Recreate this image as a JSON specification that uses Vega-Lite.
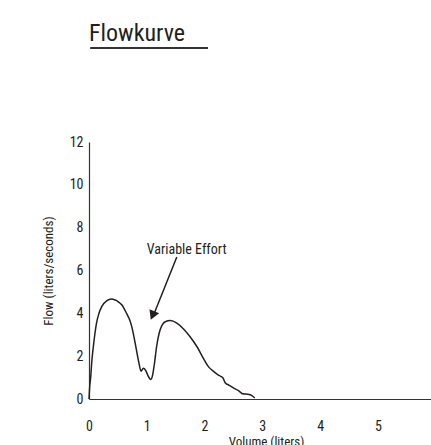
{
  "$schema": "https://vega.github.io/schema/vega-lite/v6.json",
  "width": 342,
  "height": 257,
  "autosize": "none",
  "padding": {"left": 89, "top": 142, "right": 0, "bottom": 46},
  "background": "white",
  "title": {
    "text": "Flowkurve",
    "anchor": "start",
    "frame": "group",
    "fontSize": 24,
    "fontWeight": "normal",
    "font": "'Roboto Condensed', 'DejaVu Sans Condensed', sans-serif",
    "color": "#231f20",
    "offset": 1
  },
  "config": {
    "font": "'Roboto Condensed', 'DejaVu Sans Condensed', sans-serif",
    "view": {"stroke": null},
    "axis": {
      "grid": false,
      "ticks": false,
      "tickSize": 0,
      "domainColor": "#333333",
      "domainWidth": 1.2,
      "labelFontSize": 14,
      "labelColor": "#231f20",
      "titleFontSize": 13,
      "titleFontWeight": "normal",
      "titleColor": "#231f20"
    }
  },
  "encoding": {
    "x": {
      "field": "x",
      "type": "quantitative",
      "scale": {"domain": [0, 5.92], "nice": false, "zero": false},
      "axis": {"values": [0, 1, 2, 3, 4, 5], "labelPadding": 20, "title": "Volume (liters)", "titlePadding": 2, "titleX": 177, "labelFlush": false}
    },
    "y": {
      "field": "y",
      "type": "quantitative",
      "scale": {"domain": [0, 12], "nice": false},
      "axis": {"values": [0, 2, 4, 6, 8, 10, 12], "labelPadding": 6, "title": "Flow (liters/seconds)", "titlePadding": 14}
    }
  },
  "layer": [
    {
      "data": {"values": [
        {"x": 0, "y": 0},
        {"x": 0.01, "y": 0.5},
        {"x": 0.03, "y": 1.04},
        {"x": 0.05, "y": 1.8},
        {"x": 0.075, "y": 2.44},
        {"x": 0.1, "y": 3.0},
        {"x": 0.13, "y": 3.54},
        {"x": 0.17, "y": 3.98},
        {"x": 0.22, "y": 4.31},
        {"x": 0.31, "y": 4.59},
        {"x": 0.39, "y": 4.67},
        {"x": 0.48, "y": 4.59},
        {"x": 0.57, "y": 4.39},
        {"x": 0.65, "y": 4.0},
        {"x": 0.7, "y": 3.72},
        {"x": 0.74, "y": 3.38},
        {"x": 0.8, "y": 2.6},
        {"x": 0.86, "y": 1.74},
        {"x": 0.9, "y": 1.3},
        {"x": 0.94, "y": 1.43},
        {"x": 0.98, "y": 1.34},
        {"x": 1.03, "y": 1.04},
        {"x": 1.07, "y": 0.91},
        {"x": 1.1, "y": 1.1},
        {"x": 1.13, "y": 1.6},
        {"x": 1.17, "y": 2.44},
        {"x": 1.23, "y": 3.22},
        {"x": 1.32, "y": 3.61},
        {"x": 1.41, "y": 3.66},
        {"x": 1.52, "y": 3.54},
        {"x": 1.64, "y": 3.26},
        {"x": 1.75, "y": 2.91},
        {"x": 1.87, "y": 2.44},
        {"x": 1.98, "y": 1.9},
        {"x": 2.07, "y": 1.5},
        {"x": 2.16, "y": 1.28},
        {"x": 2.24, "y": 1.12},
        {"x": 2.28, "y": 1.06},
        {"x": 2.32, "y": 0.98},
        {"x": 2.36, "y": 0.75},
        {"x": 2.42, "y": 0.65},
        {"x": 2.5, "y": 0.52},
        {"x": 2.58, "y": 0.4},
        {"x": 2.63, "y": 0.3},
        {"x": 2.66, "y": 0.24},
        {"x": 2.75, "y": 0.22},
        {"x": 2.82, "y": 0.16},
        {"x": 2.87, "y": 0.05}
      ]},
      "mark": {"type": "line", "interpolate": "monotone", "color": "#231f20", "strokeWidth": 1.5}
    },
    {
      "data": {"values": [{"x": 1.69, "y": 6.96, "label": "Variable Effort"}]},
      "mark": {"type": "text", "fontSize": 14, "color": "#231f20"},
      "encoding": {"text": {"field": "label"}}
    },
    {
      "data": {"values": [{"x": 1.52, "y": 6.63, "x2": 1.13, "y2": 4.0}]},
      "mark": {"type": "rule", "color": "#231f20", "strokeWidth": 1.5},
      "encoding": {"x2": {"field": "x2"}, "y2": {"field": "y2"}}
    },
    {
      "data": {"values": [{"x": 1.1, "y": 3.9}]},
      "mark": {"type": "point", "shape": "triangle-down", "filled": true, "color": "#231f20", "size": 110, "angle": 23, "opacity": 1}
    },
    {
      "data": {"values": [{"x": 0.02, "y": 16.39, "x2": 2.06, "y2": 16.39}]},
      "mark": {"type": "rule", "color": "#333333", "strokeWidth": 2},
      "encoding": {"x2": {"field": "x2"}, "y2": {"field": "y2"}}
    }
  ]
}
